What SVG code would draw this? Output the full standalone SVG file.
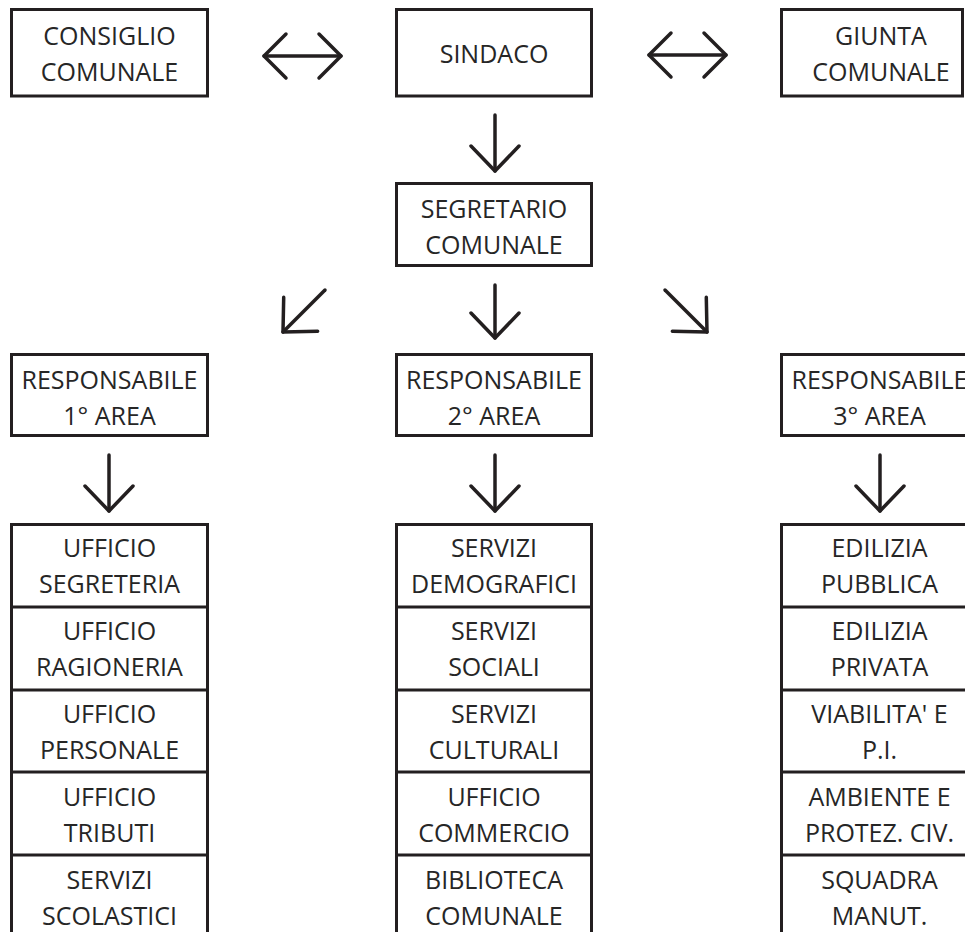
<svg xmlns="http://www.w3.org/2000/svg" width="965" height="932" viewBox="0 0 965 932">
<style>
.box{fill:#fff;stroke:#231f20;stroke-width:3}
.sep{stroke:#231f20;stroke-width:3;fill:none}
.t{font-family:"Open Sans","Liberation Sans",sans-serif;font-size:25px;fill:#262626;text-anchor:middle}
.arr{stroke:#231f20;stroke-width:3.5;fill:none;stroke-linecap:round}
</style>
<defs>
<marker id="head" markerUnits="userSpaceOnUse" markerWidth="60" markerHeight="60" refX="0" refY="0" orient="auto-start-reverse" overflow="visible">
<path d="M -25 -24 L 0 0 L -25 24" fill="none" stroke="#231f20" stroke-width="3.5" stroke-linecap="round" stroke-linejoin="round"/>
</marker>
<marker id="headS" markerUnits="userSpaceOnUse" markerWidth="60" markerHeight="60" refX="0" refY="0" orient="auto-start-reverse" overflow="visible">
<path d="M -22 -22 L 0 0 L -22 22" fill="none" stroke="#231f20" stroke-width="3.5" stroke-linecap="round" stroke-linejoin="round"/>
</marker>
</defs>
<rect width="965" height="932" fill="#fff"/>

<g id="connectors">
<line class="arr" x1="264" y1="56" x2="341" y2="56" marker-start="url(#headS)" marker-end="url(#headS)"/>
<line class="arr" x1="649" y1="55" x2="726" y2="55" marker-start="url(#headS)" marker-end="url(#headS)"/>
<line class="arr" x1="495" y1="115" x2="495" y2="171" marker-end="url(#head)"/>
<line class="arr" x1="495" y1="285" x2="495" y2="338" marker-end="url(#head)"/>
<line class="arr" x1="325" y1="290" x2="283" y2="332" marker-end="url(#head)"/>
<line class="arr" x1="665" y1="290" x2="707" y2="332" marker-end="url(#head)"/>
<line class="arr" x1="109" y1="455" x2="109" y2="511" marker-end="url(#head)"/>
<line class="arr" x1="495" y1="455" x2="495" y2="511" marker-end="url(#head)"/>
<line class="arr" x1="880" y1="455" x2="880" y2="511" marker-end="url(#head)"/>
</g>

<g id="consiglio">
<rect class="box" x="11.5" y="9.5" width="196" height="86.5"/>
<text class="t" x="109.5" y="45">CONSIGLIO</text>
<text class="t" x="109.5" y="81">COMUNALE</text>
</g>
<g id="sindaco">
<rect class="box" x="396.5" y="9.5" width="195" height="86.5"/>
<text class="t" x="494" y="63">SINDACO</text>
</g>
<g id="giunta">
<rect class="box" x="781.5" y="9.5" width="181" height="86.5"/>
<text class="t" x="881" y="45">GIUNTA</text>
<text class="t" x="881" y="81">COMUNALE</text>
</g>
<g id="segretario">
<rect class="box" x="396.5" y="183.5" width="195" height="82"/>
<text class="t" x="494" y="218">SEGRETARIO</text>
<text class="t" x="494" y="254">COMUNALE</text>
</g>
<g id="resp1">
<rect class="box" x="11.5" y="354.5" width="196" height="81"/>
<text class="t" x="109.5" y="389">RESPONSABILE</text>
<text class="t" x="109.5" y="425">1° AREA</text>
</g>
<g id="resp2">
<rect class="box" x="396.5" y="354.5" width="195" height="81"/>
<text class="t" x="494" y="389">RESPONSABILE</text>
<text class="t" x="494" y="425">2° AREA</text>
</g>
<g id="resp3">
<rect class="box" x="781.5" y="354.5" width="196" height="81"/>
<text class="t" x="879.5" y="389">RESPONSABILE</text>
<text class="t" x="879.5" y="425">3° AREA</text>
</g>

<g id="area1">
<path class="sep" d="M11.5 940 V524.5 H207.5 V940 M11.5 607 H207.5 M11.5 690 H207.5 M11.5 772 H207.5 M11.5 855 H207.5"/>
<g id="ufficio-segreteria"><text class="t" x="109.5" y="557">UFFICIO</text><text class="t" x="109.5" y="593">SEGRETERIA</text></g>
<g id="ufficio-ragioneria"><text class="t" x="109.5" y="640">UFFICIO</text><text class="t" x="109.5" y="676">RAGIONERIA</text></g>
<g id="ufficio-personale"><text class="t" x="109.5" y="723">UFFICIO</text><text class="t" x="109.5" y="759">PERSONALE</text></g>
<g id="ufficio-tributi"><text class="t" x="109.5" y="806">UFFICIO</text><text class="t" x="109.5" y="842">TRIBUTI</text></g>
<g id="servizi-scolastici"><text class="t" x="109.5" y="889">SERVIZI</text><text class="t" x="109.5" y="925">SCOLASTICI</text></g>
</g>

<g id="area2">
<path class="sep" d="M396.5 940 V524.5 H591.5 V940 M396.5 607 H591.5 M396.5 690 H591.5 M396.5 772 H591.5 M396.5 855 H591.5"/>
<g id="servizi-demografici"><text class="t" x="494" y="557">SERVIZI</text><text class="t" x="494" y="593">DEMOGRAFICI</text></g>
<g id="servizi-sociali"><text class="t" x="494" y="640">SERVIZI</text><text class="t" x="494" y="676">SOCIALI</text></g>
<g id="servizi-culturali"><text class="t" x="494" y="723">SERVIZI</text><text class="t" x="494" y="759">CULTURALI</text></g>
<g id="ufficio-commercio"><text class="t" x="494" y="806">UFFICIO</text><text class="t" x="494" y="842">COMMERCIO</text></g>
<g id="biblioteca"><text class="t" x="494" y="889">BIBLIOTECA</text><text class="t" x="494" y="925">COMUNALE</text></g>
</g>

<g id="area3">
<path class="sep" d="M781.5 940 V524.5 H977.5 V940 M781.5 607 H977.5 M781.5 690 H977.5 M781.5 772 H977.5 M781.5 855 H977.5"/>
<g id="edilizia-pubblica"><text class="t" x="879.5" y="557">EDILIZIA</text><text class="t" x="879.5" y="593">PUBBLICA</text></g>
<g id="edilizia-privata"><text class="t" x="879.5" y="640">EDILIZIA</text><text class="t" x="879.5" y="676">PRIVATA</text></g>
<g id="viabilita"><text class="t" x="879.5" y="723">VIABILITA' E</text><text class="t" x="879.5" y="759">P.I.</text></g>
<g id="ambiente"><text class="t" x="879.5" y="806">AMBIENTE E</text><text class="t" x="879.5" y="842">PROTEZ. CIV.</text></g>
<g id="squadra"><text class="t" x="879.5" y="889">SQUADRA</text><text class="t" x="879.5" y="925">MANUT.</text></g>
</g>
</svg>
